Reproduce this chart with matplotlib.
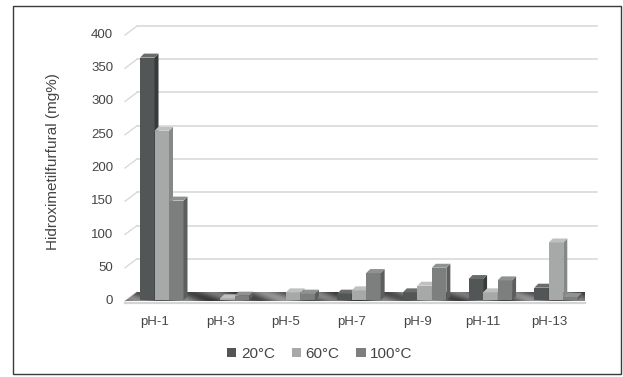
import numpy as np
import matplotlib
matplotlib.use("Agg")
import matplotlib.pyplot as plt
from matplotlib.patches import Polygon, Rectangle, Patch

categories = ["pH-1", "pH-3", "pH-5", "pH-7", "pH-9", "pH-11", "pH-13"]
series_names = ["20°C", "60°C", "100°C"]
t20 = [365, 0, 0, 10, 12, 32, 19]
t60 = [255, 3, 12, 15, 22, 12, 87]
t100 = [150, 7, 10, 41, 49, 30, 5]
yticks = [0, 50, 100, 150, 200, 250, 300, 350, 400]

# front, side, top colours per series
face_cols = [("#535656", "#393b3b", "#6a6c6c"),
             ("#a7a9a9", "#868888", "#bfc1c1"),
             ("#7d7f7f", "#5c5e5e", "#909292")]

plt.rcParams["font.family"] = ["Liberation Sans", "DejaVu Sans"]
txt = "#454545"

W, H = 623, 377
fig = plt.figure(figsize=(W / 100, H / 100), dpi=100)
# front plane: x 125..585 px, value 0 at y=301, 400 at y=35
ax = fig.add_axes([125 / W, (H - 301) / H, 460 / W, 266 / H])
ax.set_xlim(0, len(categories))
ax.set_ylim(0, 400)
ax.axis("off")

px = len(categories) / 460.0   # data x per pixel
py = 400 / 266.0               # data y per pixel
wall_dx, wall_dy = 12 * px, 9 * py
bar_dx, bar_dy = 4 * px, 4 * py
bar_w = 14.5 * px
group_off = 15 * px
n = len(categories)

# back wall gridlines + left wall diagonals
for v in yticks[1:]:
    ax.plot([wall_dx, n + wall_dx], [v + wall_dy, v + wall_dy], color="#d9d9d9",
            lw=1.2, clip_on=False, zorder=1)
for v in yticks:
    ax.plot([0, wall_dx], [v, v + wall_dy], color="#d9d9d9", lw=1.0,
            clip_on=False, zorder=1)
    ax.text(-0.18, v, str(v), ha="right", va="center", fontsize=9.5,
            color=txt, clip_on=False)

# floor with streaky shading
floor = Polygon([(0, 0), (n, 0), (n + wall_dx, wall_dy), (wall_dx, wall_dy)],
                closed=True, facecolor="none", edgecolor="none", zorder=2)
ax.add_patch(floor)
xx, yy = np.meshgrid(np.linspace(0, 1, 600), np.linspace(0, 1, 20))
pattern = 0.40 + 0.13 * np.sin(xx * 60 + yy * 3) + 0.06 * np.sin(xx * 23)
im = ax.imshow(pattern, cmap="gray", vmin=0, vmax=1, aspect="auto",
               extent=(0, n + wall_dx, 0, wall_dy), origin="lower",
               zorder=2, clip_on=True)
im.set_clip_path(floor)
ax.plot([0, n], [-2.5, -2.5], color="#d4d4d4", lw=1.6, clip_on=False, zorder=2)

# bars
base = 1.0
for i in range(n):
    for j, vals in enumerate([t20, t60, t100]):
        v = vals[i]
        if v <= 0:
            continue
        x0 = i + group_off + j * bar_w
        x1 = x0 + bar_w
        top = base + v
        fc, sc, tc = face_cols[j]
        z = 3 + i * 3 + j
        ax.add_patch(Polygon([(x0, base), (x1, base), (x1, top), (x0, top)],
                             closed=True, facecolor=fc, edgecolor="none",
                             zorder=z, clip_on=False))
        ax.add_patch(Polygon([(x1, base), (x1 + bar_dx, base + bar_dy),
                              (x1 + bar_dx, top + bar_dy), (x1, top)],
                             closed=True, facecolor=sc, edgecolor="none",
                             zorder=z, clip_on=False))
        ax.add_patch(Polygon([(x0, top), (x1, top), (x1 + bar_dx, top + bar_dy),
                              (x0 + bar_dx, top + bar_dy)],
                             closed=True, facecolor=tc, edgecolor="none",
                             zorder=z, clip_on=False))

# category labels
for i, c in enumerate(categories):
    ax.text(i + 0.45, -32, c, ha="center", va="center", fontsize=9.5,
            color=txt, clip_on=False)

fig.text(53 / W, 1 - 162 / H, "Hidroximetilfurfural (mg%)", rotation=90,
         ha="center", va="center", fontsize=11, color=txt)

handles = [Patch(facecolor=face_cols[k][0], edgecolor="none") for k in range(3)]
leg = fig.legend(handles, series_names, loc="center", bbox_to_anchor=(320 / W, 1 - 354 / H),
                 ncol=3, frameon=False, fontsize=11, handlelength=0.6,
                 handleheight=0.6, handletextpad=0.3, columnspacing=1.1)
for t in leg.get_texts():
    t.set_color(txt)

fig.patches.append(Rectangle((13 / W, 1 - 374 / H), 608 / W, 368 / H,
                             transform=fig.transFigure, fill=False,
                             edgecolor="#3a3a3a", lw=1.0))

fig.savefig("out.png", dpi=100)
